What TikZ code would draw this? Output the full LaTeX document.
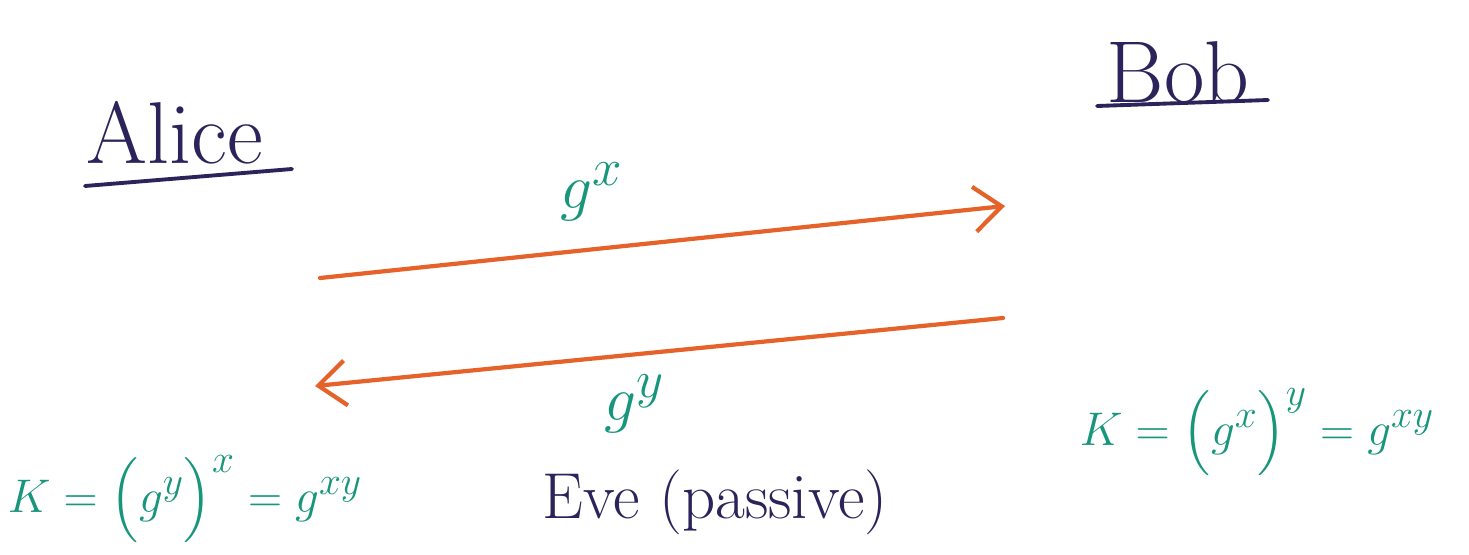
\documentclass[tikz,border=0pt]{standalone}
\usepackage{amsmath}
\usepackage{graphicx}
\usetikzlibrary{positioning,arrows.meta}
\definecolor{ink}{HTML}{2B2359}
\definecolor{msg}{HTML}{E5632A}
\definecolor{keyc}{HTML}{17967C}
\newcommand{\biglbl}[1]{\scalebox{1.45}{$#1$}}
\newcommand{\keyform}[1]{\scalebox{1.08}{$#1$}}

\begin{document}
\begin{tikzpicture}[x=0.02cm,y=-0.02cm,line cap=round]
  \useasboundingbox (0,0) rectangle (1469,554);
  \tikzset{party/.style={text=ink,font=\fontsize{50}{56}\selectfont},
           msgarrow/.style={msg,line width=2.4pt,-{Straight Barb[length=5.5mm,width=9mm]}},
           lbl/.style={text=keyc,font=\fontsize{24.88}{30}\selectfont},
           keyeq/.style={text=keyc,anchor=base,font=\fontsize{24.88}{30}\selectfont}}
  % the two parties
  \node[party] (alice) at (175,133) {Alice};
  \node[party] (bob) at (1178,72) {Bob};
  \draw[ink,line width=2.2pt] (85,186)--(292,169);
  \draw[ink,line width=2.2pt] (1097,106)--(1268,100);
  % messages
  \coordinate (a1) at (320,278);
  \coordinate (b1) at (1005,206);
  \coordinate (b2) at (1003,318);
  \coordinate (a2) at (315,386);
  \draw[msgarrow] (a1)--(b1);
  \draw[msgarrow] (b2)--(a2);
  \node[lbl] (gx) at (592,192) {\biglbl{g^x}};
  \node[lbl] (gy) at (635,404) {\biglbl{g^y}};
  % shared key
  \node[keyeq] (ka) at (185,512) {\keyform{K=\Bigl(g^y\Bigr)^x=g^{xy}}};
  \node[keyeq] (kb) at (1257,445) {\keyform{K=\Bigl(g^x\Bigr)^y=g^{xy}}};
  \node[text=ink,anchor=base,font=\fontsize{37}{40}\selectfont] (eve) at (715,518) {Eve (passive)};
\end{tikzpicture}
\end{document}
